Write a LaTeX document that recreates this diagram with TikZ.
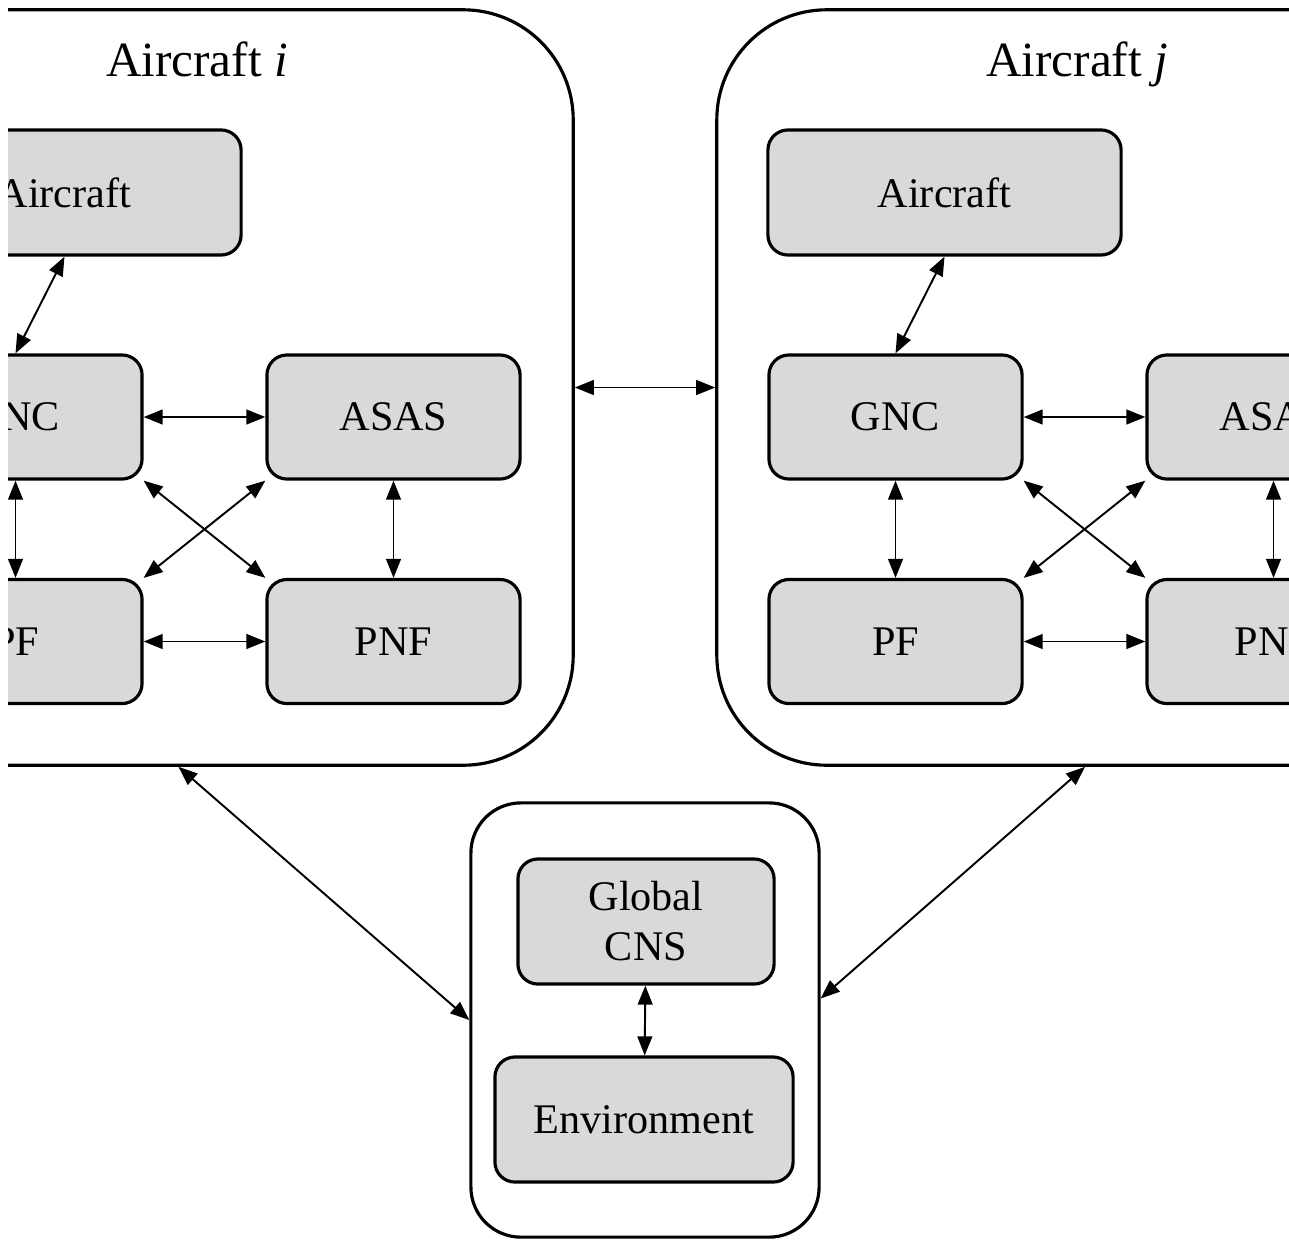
\documentclass[tikz,border=0pt]{standalone}
\usepackage{fontspec}
\setmainfont{Liberation Serif}
\usetikzlibrary{arrows.meta,positioning}
\definecolor{boxgray}{HTML}{D9D9D9}

\begin{document}
\begin{tikzpicture}[x=0.01cm, y=-0.01cm,
  block/.style={draw, line width=0.9pt, fill=boxgray, rounded corners=0.2cm,
    inner sep=0pt, minimum width=2.53cm, minimum height=1.24cm,
    align=center, font=\fontsize{12}{14.2}\selectfont},
  frame/.style={draw, line width=0.9pt, rounded corners=1.1cm, inner sep=0pt},
  link/.style={{Triangle[length=5.4pt,width=4.2pt]}-{Triangle[length=5.4pt,width=4.2pt]},
    line width=0.55pt},
  title/.style={anchor=base, font=\fontsize{14}{17}\selectfont}]
  \useasboundingbox (0,0) rectangle (1289,1239);
  \clip (8,0) rectangle (1289,1239);

  % ── Aircraft i and Aircraft j ──
  \foreach \u/\dx in {i/0, j/880} {
    \node[frame, minimum width=7.36cm, minimum height=7.55cm] (sys\u) at ({205+\dx}, 387.5) {};
    \node[title] (title\u) at ({197+\dx}, 76) {Aircraft \textit{\u}};
    \node[block, minimum width=3.53cm, minimum height=1.25cm] (ac\u) at ({64.5+\dx}, 192.5) {Aircraft};
    \node[block] (gnc\u) at ({15.5+\dx}, 417) {GNC};
    \node[block] (asas\u) at ({393.5+\dx}, 417) {ASAS};
    \node[block] (pf\u) at ({15.5+\dx}, 641.5) {PF};
    \node[block] (pnf\u) at ({393.5+\dx}, 641.5) {PNF};
    % links inside the aircraft
    \draw[link] (ac\u.south) -- (gnc\u.north);
    \draw[link] (gnc\u) -- (asas\u);
    \draw[link] (pf\u) -- (pnf\u);
    \draw[link] (gnc\u) -- (pf\u);
    \draw[link] (asas\u) -- (pnf\u);
    \draw[link] (gnc\u.south east) -- (pnf\u.north west);
    \draw[link] (asas\u.south west) -- (pf\u.north east);
  }
  \draw[link] (sysi.east) -- (sysj.west);

  % ── Ground segment ──
  \node[frame, rounded corners=0.5cm, minimum width=3.48cm, minimum height=4.34cm] (ground) at (645, 1020) {};
  \node[block, minimum width=2.56cm, minimum height=1.25cm] (cns) at (646, 921.5) {Global\\CNS};
  \node[block, minimum width=2.98cm, minimum height=1.25cm] (env) at (644, 1119.5) {Environment};
  \draw[link] (cns) -- (env);

  % aircraft <-> ground
  \draw[link] (sysi.266) -- (ground.west);
  \draw[link] (sysj.south) -- (ground.7);
\end{tikzpicture}
\end{document}
